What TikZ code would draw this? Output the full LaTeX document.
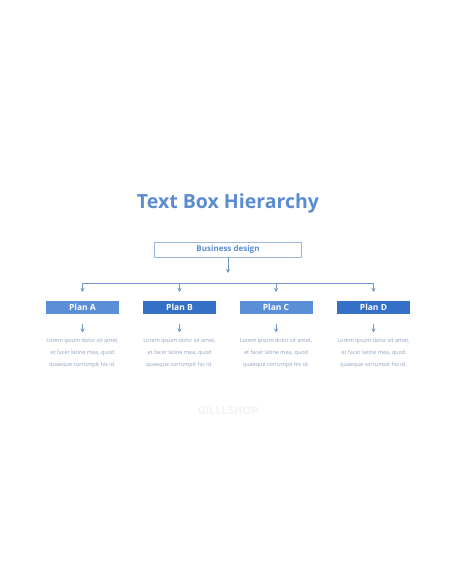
\documentclass[tikz,border=0pt]{standalone}
\usepackage{fontspec}
\setmainfont{Open Sans}
\usetikzlibrary{arrows.meta}
\definecolor{titleblue}{HTML}{5B8BD0}
\definecolor{lightplan}{HTML}{5A8ED6}
\definecolor{darkplan}{HTML}{3470C6}
\definecolor{linecol}{HTML}{7097CC}
\definecolor{bodytext}{HTML}{8EA2C2}
\definecolor{boxline}{HTML}{9DB7DC}
\tikzset{
  conn/.style={draw=linecol, line width=1pt},
  arr/.style={conn, -{Stealth[length=4pt,width=4pt]}},
  planbox/.style={minimum width=73pt, minimum height=13pt, inner sep=0pt, text=white, font=\bfseries\fontsize{8.5}{10}\selectfont},
  body/.style={text=bodytext, font=\fontsize{5.5}{12}\selectfont, align=center, inner sep=0pt}
}
\begin{document}
\begin{tikzpicture}[x=1pt,y=-1pt]
\useasboundingbox (0,0) rectangle (456,586);
\node[text=titleblue, font=\bfseries\fontsize{19.5}{22}\selectfont] (title) at (228,203) {Text Box Hierarchy};
\node[draw=boxline, line width=0.7pt, minimum width=147pt, minimum height=15pt, inner sep=0pt, text=titleblue, font=\bfseries\fontsize{8}{10}\selectfont] (biz) at (228,249.5) {Business design};
\coordinate (ha) at (82.5,283);
\coordinate (hd) at (373.5,283);
\coordinate (hb) at (179.5,283);
\coordinate (hc) at (276,283);
\coordinate (bz) at (228,273);
\draw[arr] (biz.south) -- (bz);
\draw[conn] (ha) -- (hd);
\node[planbox, fill=lightplan] (pa) at (82.5,307.5) {Plan A};
\node[planbox, fill=darkplan] (pb) at (179.5,307.5) {Plan B};
\node[planbox, fill=lightplan] (pc) at (276,307.5) {Plan C};
\node[planbox, fill=darkplan] (pd) at (373.5,307.5) {Plan D};
\foreach \p/\h/\x in {pa/ha/82.5,pb/hb/179.5,pc/hc/276,pd/hd/373.5}{
  \coordinate (\p-n) at (\x,292);
  \draw[arr] (\h) -- (\p-n);
  \coordinate (\p-a) at (\x,324);
  \coordinate (\p-b) at (\x,332.5);
  \draw[arr] (\p-a) -- (\p-b);
  \node[body, anchor=north] (\p-t) at (\x,338.5) {Lorem ipsum dolor sit amet,\\et facer latine mea, quod\\quaeque corrumpit his id.};
}
\node[text=black!5, font=\bfseries\fontsize{11}{12}\selectfont] (wm) at (228,411) {GILLLSHOP};
\end{tikzpicture}
\end{document}
